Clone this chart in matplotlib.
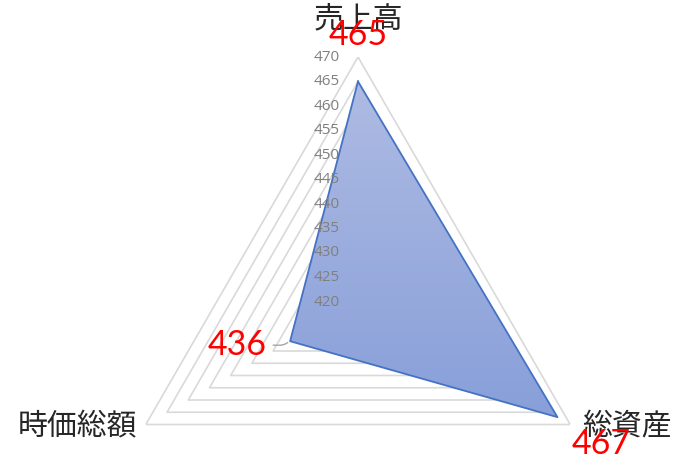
import numpy as np
import matplotlib
matplotlib.use("Agg")
import matplotlib.pyplot as plt
from matplotlib.colors import LinearSegmentedColormap

categories = ["売上高", "総資産", "時価総額"]
values = [465, 467, 436]
radial_ticks = [420, 425, 430, 435, 440, 445, 450, 455, 460, 465, 470]
r_min, r_max = 420, 470

W, H = 678, 459
fig = plt.figure(figsize=(W / 100, H / 100), dpi=100)
fig.patch.set_facecolor("white")

cx, cy, R = 358, 302, 245  # pixel centre / radius
ax = fig.add_axes([(cx - R) / W, (H - cy - R) / H, 2 * R / W, 2 * R / H],
                  projection="polar")
ax.set_theta_offset(np.pi / 2)
ax.set_theta_direction(-1)
ax.set_xlim(0, 2 * np.pi)
ax.set_ylim(r_min, r_max)
ax.set_autoscale_on(False)
ax.grid(False)
ax.set_xticks([])
ax.set_yticks([])
ax.spines["polar"].set_visible(False)
ax.patch.set_alpha(0)

n = len(categories)
theta = np.arange(n) * 2 * np.pi / n
theta_c = np.append(theta, theta[0])

# grid rings (triangles)
for lvl in radial_ticks[1:]:
    ax.plot(theta_c, [lvl] * (n + 1), color="#d9d9d9", lw=1.2, zorder=1)

vals_c = np.append(values, values[0])
poly = ax.fill(theta_c, vals_c, facecolor="none", edgecolor="none", zorder=2)[0]

cmap = LinearSegmentedColormap.from_list("g", [(136/255, 159/255, 217/255),
                                               (174/255, 187/255, 227/255)])
grad = np.linspace(0, 1, 256).reshape(-1, 1)
im = ax.imshow(grad, cmap=cmap, origin="lower", aspect="auto",
               extent=[0, 1, 0.265, 0.951], transform=ax.transAxes, zorder=2)
im.set_clip_path(poly)
ax.set_xlim(0, 2 * np.pi)
ax.set_ylim(r_min, r_max)

ax.plot(theta_c, vals_c, color="#4472c4", lw=1.3, zorder=3)

# radial tick labels
for t in radial_ticks:
    ax.annotate(str(t), xy=(0, t), xytext=(-18, 0), textcoords="offset pixels",
                ha="right", va="center", fontsize=11, color="#808080",
                family="Open Sans", zorder=4)

# category labels
cat_offsets = [((0, 38), "center", "center"),
               ((12, -2), "left", "center"),
               ((-9, -2), "right", "center")]
for th, cat, (off, ha, va) in zip(theta, categories, cat_offsets):
    ax.annotate(cat, xy=(th, r_max), xytext=off, textcoords="offset pixels",
                ha=ha, va=va, fontsize=21.5, color="#262626",
                family=["Noto Sans CJK JP", "DejaVu Sans"], zorder=5,
                annotation_clip=False)

# data labels
lab_offsets = [((0, 47), "center"), ((14, -27), "left"), ((-23, -4), "right")]
for th, v, (off, ha) in zip(theta, values, lab_offsets):
    ax.annotate(str(v), xy=(th, v), xytext=off, textcoords="offset pixels",
                ha=ha, va="center", fontsize=24.5, color="#ff0000",
                family="Lato", zorder=6, annotation_clip=False)

# leader line for the 436 label
th_l = theta[2]
ax.annotate("", xy=(th_l, values[2]), xytext=(-17, -4), textcoords="offset pixels",
            arrowprops=dict(arrowstyle="-", color="#a6a6a6", lw=1,
                            connectionstyle="angle,angleA=0,angleB=30,rad=3",
                            shrinkA=0, shrinkB=2),
            annotation_clip=False)

fig.savefig("out.png", dpi=100)
